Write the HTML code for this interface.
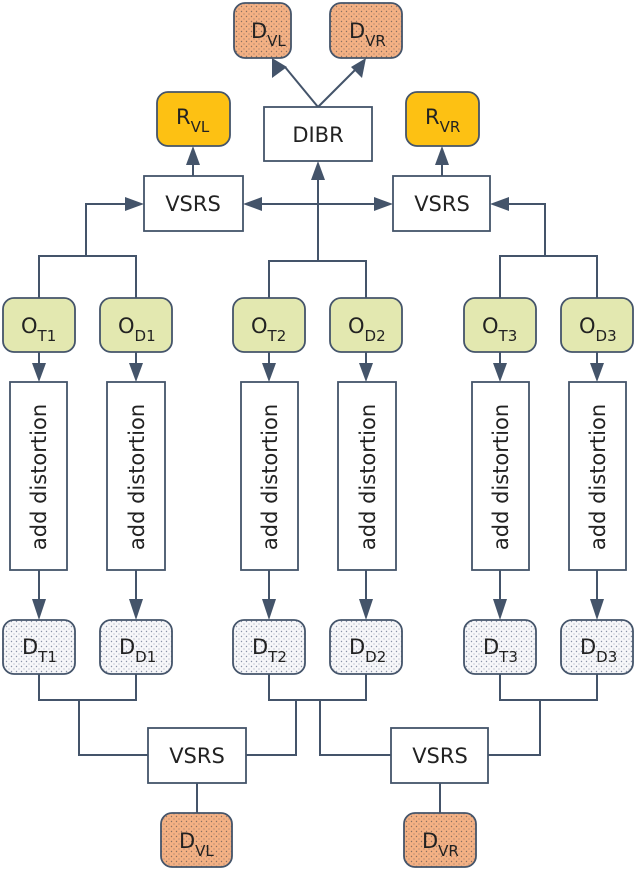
<!DOCTYPE html>
<html><head><meta charset="utf-8"><style>
html,body{margin:0;padding:0;background:#fff;}
svg{display:block;}
svg text{font-family:"DejaVu Sans","Liberation Sans",sans-serif;fill:#222;font-size:21px;}
svg text.c{text-anchor:middle;}
svg tspan.s{font-size:15px;}
</style></head><body>
<svg width="636" height="870" viewBox="0 0 636 870" xmlns="http://www.w3.org/2000/svg">
<defs>
<pattern id="pg" width="5" height="5" patternUnits="userSpaceOnUse">
<rect width="5" height="5" fill="#f7f7f9"/><circle cx="1.5" cy="1.5" r="0.7" fill="#8a93a8"/><circle cx="4" cy="4" r="0.6" fill="#a8b0c0"/>
</pattern>
<pattern id="po" width="5" height="5" patternUnits="userSpaceOnUse">
<rect width="5" height="5" fill="#f4b184"/><circle cx="1.5" cy="1.5" r="0.7" fill="#8a7060"/><circle cx="4" cy="4" r="0.6" fill="#9a7e6e"/>
</pattern>
</defs>
<g stroke="#44546a" stroke-width="2" fill="none">
<polyline points="39,298 39,256 136,256 136,298"/>
<polyline points="86,256 86,204 130,204"/>
<polyline points="269,298 269,261 366,261 366,298"/>
<line x1="318" y1="261" x2="318" y2="175"/>
<line x1="257" y1="204" x2="379" y2="204"/>
<polyline points="500,298 500,256 597,256 597,298"/>
<polyline points="545,256 545,204 504,204"/>
<line x1="193" y1="176" x2="193" y2="160"/>
<line x1="442" y1="176" x2="442" y2="160"/>
<line x1="318" y1="107" x2="285" y2="67"/>
<line x1="318" y1="107" x2="358" y2="67"/>
<line x1="39" y1="352" x2="39" y2="368"/><line x1="136" y1="352" x2="136" y2="368"/>
<line x1="269" y1="352" x2="269" y2="368"/><line x1="366" y1="352" x2="366" y2="368"/>
<line x1="500" y1="352" x2="500" y2="368"/><line x1="597" y1="352" x2="597" y2="368"/>
<line x1="39" y1="570" x2="39" y2="604"/><line x1="136" y1="570" x2="136" y2="604"/>
<line x1="269" y1="570" x2="269" y2="604"/><line x1="366" y1="570" x2="366" y2="604"/>
<line x1="500" y1="570" x2="500" y2="604"/><line x1="597" y1="570" x2="597" y2="604"/>
<polyline points="39,674 39,700 136,700 136,674"/>
<polyline points="79,700 79,755 148,755"/>
<polyline points="269,674 269,700 366,700 366,674"/>
<polyline points="296,700 296,755 246,755"/>
<polyline points="320,700 320,755 391,755"/>
<polyline points="500,674 500,700 597,700 597,674"/>
<polyline points="540,700 540,755 488,755"/>
<line x1="197" y1="783" x2="197" y2="813"/>
<line x1="440" y1="783" x2="440" y2="813"/>
</g>
<g fill="#44546a">
<polygon points="144,204 125,197 125,211"/>
<polygon points="243,204 262,197 262,211"/>
<polygon points="393,204 374,197 374,211"/>
<polygon points="490,204 509,197 509,211"/>
<polygon points="318,161 311,180 325,180"/>
<polygon points="193,146 186,165 200,165"/>
<polygon points="442,146 435,165 449,165"/>
<polygon points="272,58 272,78 287,67"/>
<polygon points="366,58 351,67 362,78"/>
<polygon points="39,382 32,363 46,363"/><polygon points="136,382 129,363 143,363"/>
<polygon points="269,382 262,363 276,363"/><polygon points="366,382 359,363 373,363"/>
<polygon points="500,382 493,363 507,363"/><polygon points="597,382 590,363 604,363"/>
<polygon points="39,620 32,599 46,599"/><polygon points="136,620 129,599 143,599"/>
<polygon points="269,620 262,599 276,599"/><polygon points="366,620 359,599 373,599"/>
<polygon points="500,620 493,599 507,599"/><polygon points="597,620 590,599 604,599"/>
</g>
<g stroke="#44546a" stroke-width="1.8">
<rect x="264" y="107" width="108" height="54" fill="#fff"/>
<rect x="144" y="176" width="99" height="55" fill="#fff"/>
<rect x="393" y="176" width="97" height="55" fill="#fff"/>
<rect x="148" y="728" width="98" height="55" fill="#fff"/>
<rect x="391" y="728" width="97" height="55" fill="#fff"/>
<rect x="10" y="382" width="57" height="188" fill="#fff"/>
<rect x="107" y="382" width="58" height="188" fill="#fff"/>
<rect x="241" y="382" width="57" height="188" fill="#fff"/>
<rect x="338" y="382" width="58" height="188" fill="#fff"/>
<rect x="472" y="382" width="57" height="188" fill="#fff"/>
<rect x="569" y="382" width="57" height="188" fill="#fff"/>
<rect x="234" y="3" width="57" height="55" rx="11" fill="url(#po)"/>
<rect x="330" y="3" width="72" height="55" rx="11" fill="url(#po)"/>
<rect x="161" y="813" width="71" height="54" rx="11" fill="url(#po)"/>
<rect x="404" y="813" width="72" height="54" rx="11" fill="url(#po)"/>
<rect x="157" y="92" width="73" height="54" rx="11" fill="#fdc113"/>
<rect x="406" y="92" width="73" height="54" rx="11" fill="#fdc113"/>
<rect x="3" y="298" width="72" height="54" rx="11" fill="#e3e8b0"/>
<rect x="100" y="298" width="72" height="54" rx="11" fill="#e3e8b0"/>
<rect x="233" y="298" width="72" height="54" rx="11" fill="#e3e8b0"/>
<rect x="330" y="298" width="72" height="54" rx="11" fill="#e3e8b0"/>
<rect x="464" y="298" width="72" height="54" rx="11" fill="#e3e8b0"/>
<rect x="561" y="298" width="72" height="54" rx="11" fill="#e3e8b0"/>
<rect x="3" y="620" width="72" height="54" rx="11" fill="url(#pg)"/>
<rect x="100" y="620" width="72" height="54" rx="11" fill="url(#pg)"/>
<rect x="233" y="620" width="72" height="54" rx="11" fill="url(#pg)"/>
<rect x="330" y="620" width="72" height="54" rx="11" fill="url(#pg)"/>
<rect x="464" y="620" width="72" height="54" rx="11" fill="url(#pg)"/>
<rect x="561" y="620" width="72" height="54" rx="11" fill="url(#pg)"/>
</g>
<text class="c" x="318" y="142">DIBR</text>
<text class="c" x="193" y="211">VSRS</text>
<text class="c" x="442" y="211">VSRS</text>
<text class="c" x="197" y="763">VSRS</text>
<text class="c" x="440" y="763">VSRS</text>
<text x="251" y="38">D<tspan class="s" dy="8">VL</tspan></text>
<text x="349" y="38">D<tspan class="s" dy="8">VR</tspan></text>
<text x="179" y="848">D<tspan class="s" dy="8">VL</tspan></text>
<text x="422" y="848">D<tspan class="s" dy="8">VR</tspan></text>
<text x="176" y="124">R<tspan class="s" dy="8">VL</tspan></text>
<text x="425" y="124">R<tspan class="s" dy="8">VR</tspan></text>
<text x="21" y="333">O<tspan class="s" dy="8">T1</tspan></text>
<text x="118" y="333">O<tspan class="s" dy="8">D1</tspan></text>
<text x="251" y="333">O<tspan class="s" dy="8">T2</tspan></text>
<text x="348" y="333">O<tspan class="s" dy="8">D2</tspan></text>
<text x="482" y="333">O<tspan class="s" dy="8">T3</tspan></text>
<text x="579" y="333">O<tspan class="s" dy="8">D3</tspan></text>
<text x="22" y="654">D<tspan class="s" dy="8">T1</tspan></text>
<text x="119" y="654">D<tspan class="s" dy="8">D1</tspan></text>
<text x="252" y="654">D<tspan class="s" dy="8">T2</tspan></text>
<text x="349" y="654">D<tspan class="s" dy="8">D2</tspan></text>
<text x="483" y="654">D<tspan class="s" dy="8">T3</tspan></text>
<text x="580" y="654">D<tspan class="s" dy="8">D3</tspan></text>
<text class="c" transform="translate(46,477) rotate(-90)">add distortion</text>
<text class="c" transform="translate(144,477) rotate(-90)">add distortion</text>
<text class="c" transform="translate(277,477) rotate(-90)">add distortion</text>
<text class="c" transform="translate(375,477) rotate(-90)">add distortion</text>
<text class="c" transform="translate(508,477) rotate(-90)">add distortion</text>
<text class="c" transform="translate(605,477) rotate(-90)">add distortion</text>
</svg>
</body></html>
